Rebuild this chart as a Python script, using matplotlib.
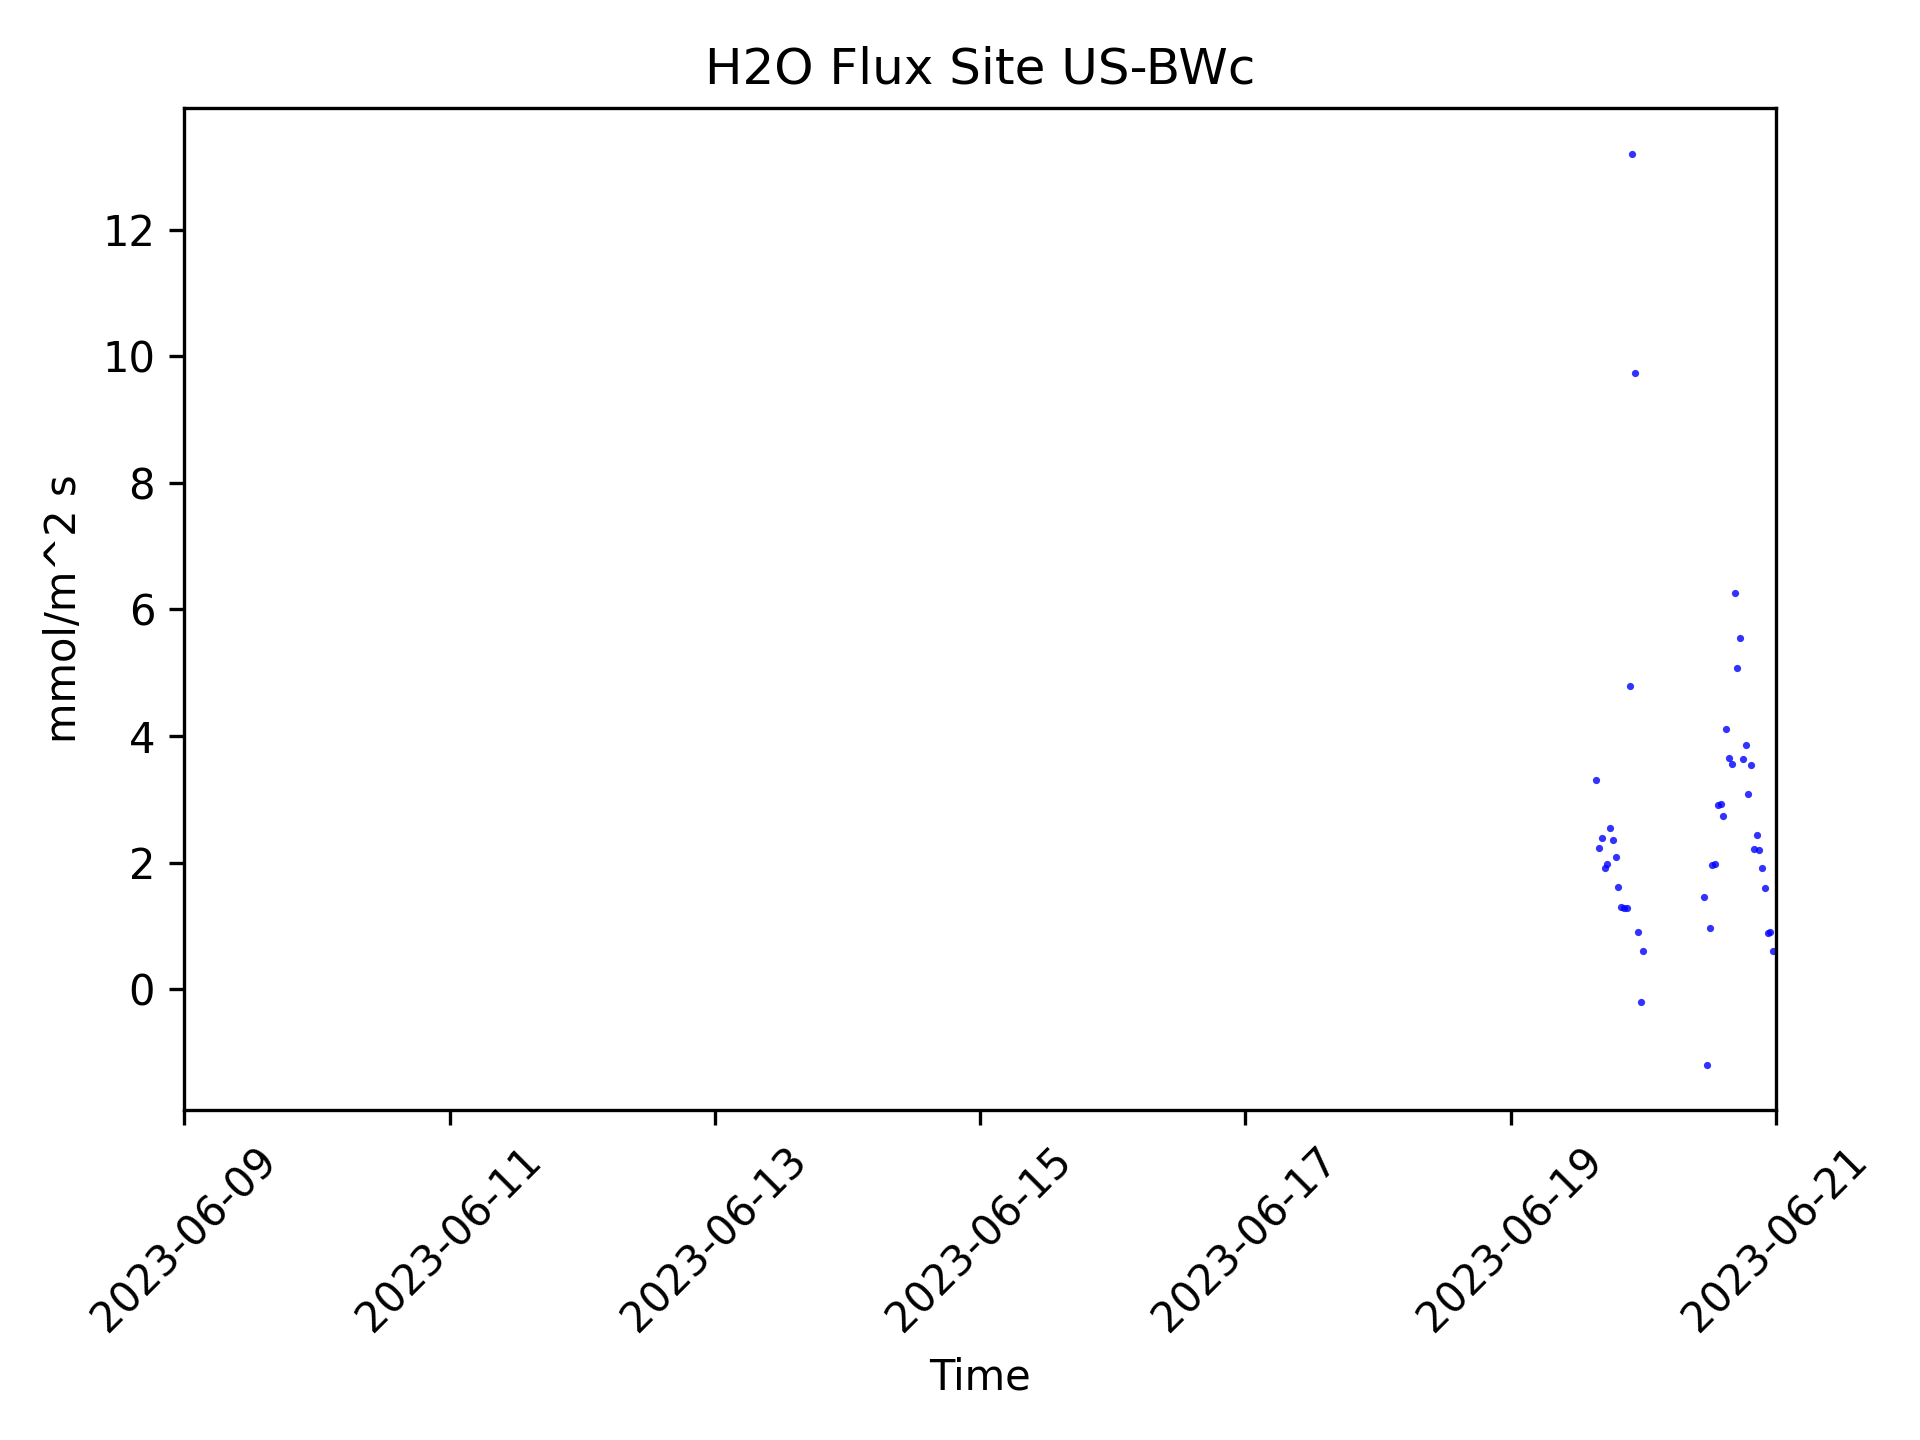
import numpy as np
import pandas as pd
import matplotlib
matplotlib.use("Agg")
import matplotlib.pyplot as plt
import matplotlib.dates as mdates

# half-hourly H2O flux readings (mmol/m^2 s)
times_0619 = ["15:30", "16:00", "16:30", "17:00", "17:30", "18:00",
              "18:30", "19:00", "19:30", "20:00", "20:30", "21:00",
              "21:30", "22:00", "22:30", "23:00", "23:30"]
flux_0619 = [3.30, 2.23, 2.39, 1.91, 1.98, 2.55,
             2.36, 2.09, 1.61, 1.30, 1.29, 1.28,
             4.79, 13.20, 9.74, 0.90, -0.20]

times_0620 = ["00:00", "11:00", "11:30", "12:00", "12:30", "13:00",
              "13:30", "14:00", "14:30", "15:00", "15:30", "16:00",
              "16:30", "17:00", "17:30", "18:00", "18:30", "19:00",
              "19:30", "20:00", "20:30", "21:00", "21:30", "22:00",
              "22:30", "23:00", "23:30"]
flux_0620 = [0.60, 1.46, -1.19, 0.97, 1.96, 1.98,
             2.91, 2.93, 2.74, 4.11, 3.65, 3.56,
             6.26, 5.08, 5.55, 3.64, 3.86, 3.08,
             3.54, 2.21, 2.44, 2.20, 1.91, 1.60,
             0.89, 0.90, 0.60]

start = pd.Timestamp("2023-06-09")
end = pd.Timestamp("2023-06-21")

t = pd.to_datetime(["2023-06-19 " + s for s in times_0619] +
                   ["2023-06-20 " + s for s in times_0620])
flux = np.array(flux_0619 + flux_0620)

fig, ax = plt.subplots(figsize=(6.4, 4.8), dpi=300)
ax.scatter(t, flux, s=3, color="blue", alpha=0.8, linewidths=0)
ax.set_xlim(start, end)
ax.xaxis.set_major_locator(mdates.DayLocator(interval=2))
ax.xaxis.set_major_formatter(mdates.DateFormatter("%Y-%m-%d"))
plt.xticks(rotation=45)
ax.set_xlabel("Time")
ax.set_ylabel("mmol/m^2 s")
ax.set_title("H2O Flux Site US-BWc")
fig.subplots_adjust(left=0.096, right=0.925, top=0.925, bottom=0.229)
fig.savefig("out.png")
